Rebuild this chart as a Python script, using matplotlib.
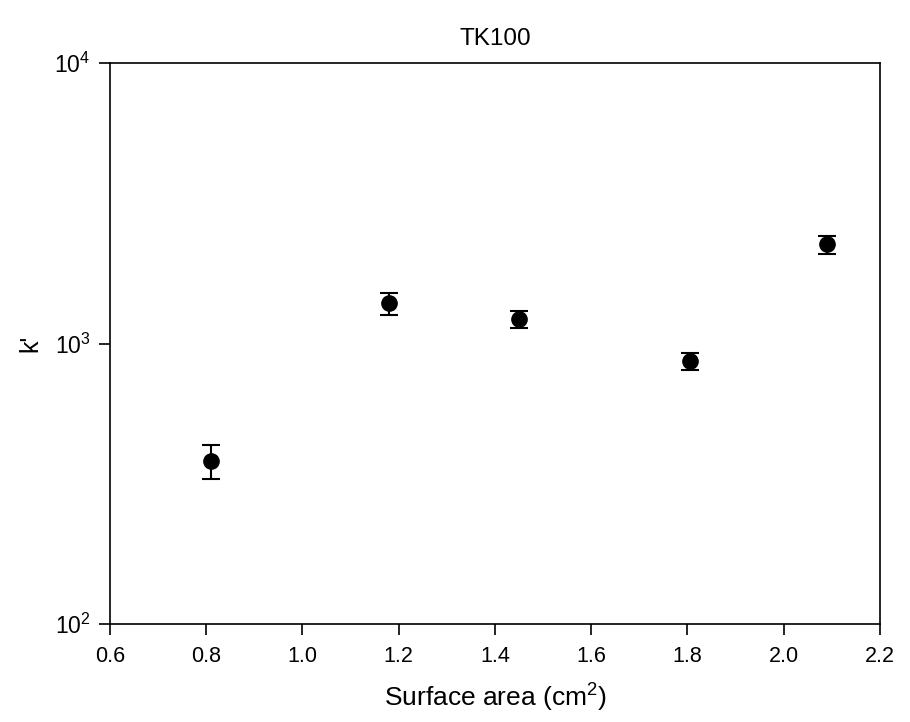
import matplotlib
matplotlib.use("Agg")
import matplotlib.pyplot as plt
from matplotlib.ticker import FixedLocator, NullLocator, FixedFormatter

plt.rcParams['font.family'] = ['Liberation Sans', 'DejaVu Sans']
plt.rcParams['mathtext.fontset'] = 'custom'
plt.rcParams['mathtext.rm'] = 'Liberation Sans'

surface_area = [0.81, 1.18, 1.45, 1.805, 2.09]
k_prime = [381, 1393, 1222, 866, 2264]
err_upper = [435, 1514, 1306, 925, 2415]
err_lower = [329, 1265, 1135, 805, 2084]

yerr = [[k - lo for k, lo in zip(k_prime, err_lower)],
        [hi - k for k, hi in zip(k_prime, err_upper)]]

fig = plt.figure(figsize=(9.1, 7.22), dpi=100)
ax = fig.add_axes([0.1209, 0.1357, 0.846, 0.777])

ax.errorbar(surface_area, k_prime, yerr=yerr, fmt='o', color='black',
            markersize=11, ecolor='black', elinewidth=1.5, capsize=6.5,
            capthick=1.5)

ax.set_yscale('log')
ax.set_xlim(0.6, 2.2)
ax.set_ylim(100, 10000)
ax.set_xticks([0.6, 0.8, 1.0, 1.2, 1.4, 1.6, 1.8, 2.0, 2.2])
ax.set_xticklabels(['0.6', '0.8', '1.0', '1.2', '1.4', '1.6', '1.8', '2.0', '2.2'])
ax.yaxis.set_major_locator(FixedLocator([100, 1000, 10000]))
ax.yaxis.set_major_formatter(FixedFormatter([r'10$^\mathregular{2}$',
                                             r'10$^\mathregular{3}$',
                                             r'10$^\mathregular{4}$']))
ax.yaxis.set_minor_locator(NullLocator())

ax.tick_params(axis='x', direction='out', length=8, width=1.2,
               labelsize=15.5, pad=8)
ax.tick_params(axis='y', direction='out', length=8, width=1.2,
               labelsize=16.5, pad=6)
for s in ax.spines.values():
    s.set_linewidth(1.2)

ax.set_title('TK100', fontsize=17.5, pad=13)
ax.set_xlabel(r'Surface area (cm$^\mathregular{2}$)', fontsize=19, labelpad=9)
ax.set_ylabel("k'", fontsize=18, labelpad=9)

fig.savefig('out.png', dpi=100)
